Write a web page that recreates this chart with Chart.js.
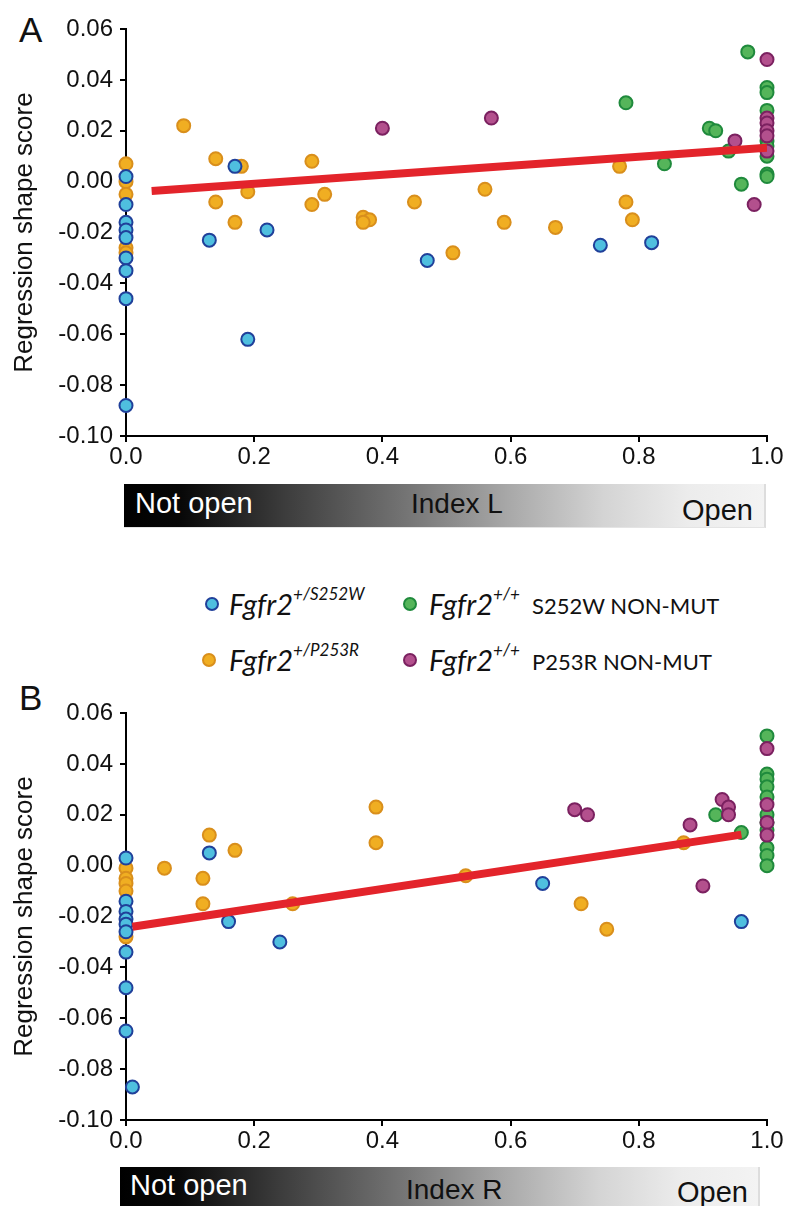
<!DOCTYPE html>
<html>
<head>
<meta charset="utf-8">
<script src="https://cdn.jsdelivr.net/npm/chart.js@4.4.0/dist/chart.umd.min.js"></script>
<style>
  body { margin: 0; background: #fff; width: 785px; height: 1206px; position: relative; overflow: hidden; font-family: 'Liberation Sans', Arial, sans-serif; }
  canvas { position: absolute; left: 0; }
  .abs { position: absolute; white-space: nowrap; line-height: 1; color: #111; }
  .panel { font-size: 35px; }
  .bar { position: absolute; background: linear-gradient(to right, #000 0%, #080808 9%, #3c3c3c 25%, #777 45%, #a8a8a8 60%, #d4d4d4 75%, #ececec 88%, #f3f3f3 100%); border-right: 2px solid #ddd; border-bottom: 1px solid #e4e4e4; }
  .barText { font-size: 29px; }
  .dot { position: absolute; width: 10px; height: 10px; border-radius: 50%; border: 2px solid; }
  .leg { font-family: Lato, 'Open Sans', sans-serif; font-size: 29px; font-style: italic; }
  .leg sup { font-size: 17px; position: relative; top: -4px; }
  .tag { font-family: Lato, 'Open Sans', sans-serif; font-size: 22px; }
</style>
</head>
<body>

<div class="abs panel" style="left:19px; top:12px;">A</div>
<div class="abs panel" style="left:19px; top:680px;">B</div>

<canvas id="chartA" width="785" height="475" style="top:0px;"></canvas>
<canvas id="chartB" width="785" height="475" style="top:684px;"></canvas>

<!-- gradient bar under panel A -->
<div class="bar" style="left:124px; top:484px; width:640px; height:43px;"></div>
<div class="abs barText" style="left:135px; top:489px; color:#fff;">Not open</div>
<div class="abs barText" style="left:411px; top:490px; font-size:28px;">Index L</div>
<div class="abs barText" style="left:682px; top:496px;">Open</div>

<!-- legend -->
<div class="dot" style="left:205px; top:597px; background:#4fbfdf; border-color:#20409a;"></div>
<div class="abs leg" style="left:229px; top:589px;">Fgfr2<sup>+/S252W</sup></div>
<div class="dot" style="left:403px; top:597px; background:#55b55a; border-color:#1f8a3c;"></div>
<div class="abs leg" style="left:429px; top:589px;">Fgfr2<sup>+/+</sup></div>
<div class="abs tag" style="left:532px; top:595px;">S252W NON-MUT</div>
<div class="dot" style="left:202px; top:653px; background:#f0ae22; border-color:#d98f1c;"></div>
<div class="abs leg" style="left:229px; top:645px;">Fgfr2<sup>+/P253R</sup></div>
<div class="dot" style="left:403px; top:653px; background:#b3508d; border-color:#7b2160;"></div>
<div class="abs leg" style="left:429px; top:645px;">Fgfr2<sup>+/+</sup></div>
<div class="abs tag" style="left:532px; top:651px;">P253R NON-MUT</div>

<!-- gradient bar under panel B -->
<div class="bar" style="left:120px; top:1167px; width:638px; height:45px;"></div>
<div class="abs barText" style="left:130px; top:1171px; color:#fff;">Not open</div>
<div class="abs barText" style="left:406px; top:1176px; font-size:28px;">Index R</div>
<div class="abs barText" style="left:677px; top:1178px;">Open</div>

<script>
// axis ticks
let xTickValues = [0, 0.2, 0.4, 0.6, 0.8, 1.0];
let xTickLabels = ['0.0', '0.2', '0.4', '0.6', '0.8', '1.0'];
let yTickValues = [-0.10, -0.08, -0.06, -0.04, -0.02, 0, 0.02, 0.04, 0.06];
let yTickLabels = ['-0.10', '-0.08', '-0.06', '-0.04', '-0.02', '0.00', '0.02', '0.04', '0.06'];

// panel A (Index L)
let aBlueX = [0, 0, 0, 0, 0, 0, 0, 0, 0, 0.13, 0.17, 0.22, 0.19, 0.47, 0.74, 0.82];
let aBlueY = [0.002, -0.009, -0.016, -0.019, -0.022, -0.030, -0.035, -0.046, -0.088, -0.023, 0.006, -0.019, -0.062, -0.031, -0.025, -0.024];
let aOrangeX = [0, 0, 0, 0, 0, 0.09, 0.14, 0.18, 0.19, 0.14, 0.17, 0.29, 0.31, 0.29, 0.37, 0.38, 0.37, 0.45, 0.56, 0.59, 0.51, 0.67, 0.77, 0.78, 0.79];
let aOrangeY = [0.007, 0.000, -0.005, -0.026, -0.028, 0.022, 0.009, 0.006, -0.004, -0.008, -0.016, 0.008, -0.005, -0.009, -0.014, -0.015, -0.016, -0.008, -0.003, -0.016, -0.028, -0.018, 0.006, -0.008, -0.015];
let aGreenX = [0.78, 0.84, 0.97, 0.91, 0.92, 0.94, 0.96, 1, 1, 1, 1, 1, 1, 1, 1];
let aGreenY = [0.031, 0.007, 0.051, 0.021, 0.020, 0.012, -0.001, 0.037, 0.035, 0.028, 0.016, 0.014, 0.010, 0.003, 0.002];
let aPurpleX = [0.40, 0.57, 0.95, 0.98, 1, 1, 1, 1, 1, 1];
let aPurpleY = [0.021, 0.025, 0.016, -0.009, 0.048, 0.025, 0.023, 0.020, 0.018, 0.012];
let aFitX = [0.04, 1.0];
let aFitY = [-0.0037, 0.0133];

// panel B (Index R)
let bBlueX = [0, 0, 0, 0, 0, 0, 0, 0, 0, 0.01, 0.13, 0.16, 0.24, 0.65, 0.96];
let bBlueY = [0.003, -0.014, -0.018, -0.021, -0.023, -0.026, -0.034, -0.048, -0.065, -0.087, 0.005, -0.022, -0.030, -0.007, -0.022];
let bOrangeX = [0, 0, 0, 0, 0, 0.06, 0.13, 0.17, 0.12, 0.12, 0.26, 0.39, 0.39, 0.53, 0.71, 0.75, 0.87];
let bOrangeY = [-0.001, -0.005, -0.007, -0.010, -0.028, -0.001, 0.012, 0.006, -0.005, -0.015, -0.015, 0.023, 0.009, -0.004, -0.015, -0.025, 0.009];
let bGreenX = [0.92, 0.96, 1, 1, 1, 1, 1, 1, 1, 1, 1, 1, 1];
let bGreenY = [0.020, 0.013, 0.051, 0.036, 0.034, 0.031, 0.027, 0.020, 0.017, 0.014, 0.007, 0.004, 0.000];
let bPurpleX = [0.70, 0.72, 0.93, 0.94, 0.94, 0.88, 0.90, 1, 1, 1, 1];
let bPurpleY = [0.022, 0.020, 0.026, 0.023, 0.020, 0.016, -0.008, 0.046, 0.024, 0.017, 0.012];
let bFitX = [0.01, 0.96];
let bFitY = [-0.024, 0.0122];

Chart.defaults.font.family = "'Liberation Sans', Arial, sans-serif";

function toPoints(xs, ys) {
  return xs.map(function (x, i) {
    return { x: x, y: ys[i] };
  });
}

function dots(xs, ys, fill, edge) {
  return { data: toPoints(xs, ys), backgroundColor: fill, borderColor: edge, pointRadius: 6.5, pointBorderWidth: 2, clip: false };
}

function makeChart(id, blue, orange, green, purple, fit) {
  var ctx = document.getElementById(id).getContext('2d');
  return new Chart(ctx, {
    type: 'scatter',
    data: {
      // first dataset is painted last, so the fit line sits on top
      datasets: [
        { type: 'line', data: toPoints(fit[0], fit[1]), borderColor: '#e3242b', borderWidth: 8, pointRadius: 0, borderCapStyle: 'butt', fill: false },
        dots(purple[0], purple[1], '#b3508d', '#7b2160'),
        dots(green[0], green[1], '#55b55a', '#1f8a3c'),
        dots(blue[0], blue[1], '#4fbfdf', '#20409a'),
        dots(orange[0], orange[1], '#f0ae22', '#d98f1c'),
      ],
    },
    options: {
      responsive: false,
      animation: false,
      layout: { padding: { top: 29, right: 18, left: 0, bottom: 0 } },
      plugins: { legend: { display: false }, tooltip: { enabled: false } },
      scales: {
        x: {
          type: 'linear',
          min: 0,
          max: 1,
          afterFit: function (s) { s.height = 39; },
          afterBuildTicks: function (s) { s.ticks = xTickValues.map(function (v) { return { value: v }; }); },
          ticks: {
            callback: function (v, i) { return xTickLabels[i]; },
            font: { size: 24 },
            color: '#111',
            padding: 1,
            maxRotation: 0,
            autoSkip: false,
          },
          grid: { drawOnChartArea: false, tickLength: 6, color: '#000', lineWidth: 2 },
          border: { color: '#000', width: 2 },
        },
        y: {
          min: -0.10,
          max: 0.06,
          afterFit: function (s) { s.width = 126; },
          afterBuildTicks: function (s) { s.ticks = yTickValues.map(function (v) { return { value: v }; }); },
          ticks: {
            callback: function (v, i) { return yTickLabels[i]; },
            font: { size: 24 },
            color: '#111',
            padding: 7,
            autoSkip: false,
          },
          title: {
            display: true,
            text: 'Regression shape score',
            font: { size: 26 },
            color: '#111',
            padding: { top: 9, bottom: 0 },
          },
          grid: { drawOnChartArea: false, tickLength: 6, color: '#000', lineWidth: 2 },
          border: { color: '#000', width: 2 },
        },
      },
    },
  });
}

makeChart('chartA', [aBlueX, aBlueY], [aOrangeX, aOrangeY], [aGreenX, aGreenY], [aPurpleX, aPurpleY], [aFitX, aFitY]);
makeChart('chartB', [bBlueX, bBlueY], [bOrangeX, bOrangeY], [bGreenX, bGreenY], [bPurpleX, bPurpleY], [bFitX, bFitY]);
</script>
</body>
</html>
